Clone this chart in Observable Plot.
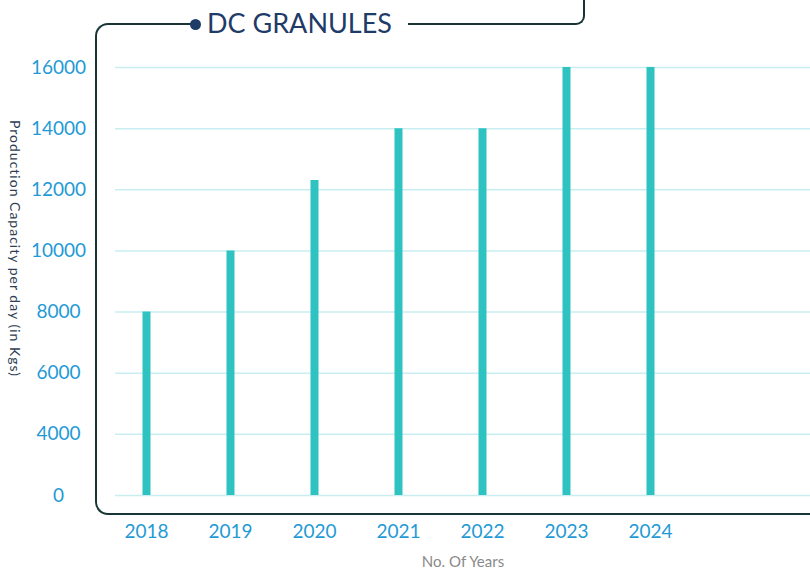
<!DOCTYPE html>
<html>
<head>
<meta charset="utf-8">
<script src="https://cdn.jsdelivr.net/npm/d3@7"></script>
<script src="https://cdn.jsdelivr.net/npm/@observablehq/plot@0.6"></script>
<style>
  html, body { margin: 0; padding: 0; background: #fff; }
  #wrap { position: relative; width: 810px; height: 571px; overflow: hidden; }
  #wrap svg { position: absolute; left: 0; top: 0; }
  .frame { position: absolute; border-color: #173535; border-style: solid; border-width: 0; box-sizing: border-box; }
  #title { position: absolute; left: 207px; top: 6px; font-family: Lato, sans-serif; font-size: 27px; color: #1f3b68; letter-spacing: 0px; white-space: nowrap; }
  #dot { position: absolute; left: 190px; top: 19px; width: 11px; height: 11px; border-radius: 50%; background: #1f3b68; }
  #ylabel { position: absolute; left: 7px; top: 120px; writing-mode: vertical-rl; font-family: Lato, sans-serif; font-size: 14px; letter-spacing: 1px; color: #2d3e55; white-space: nowrap; }
</style>
</head>
<body>
<div id="wrap">
  <div id="chart"></div>
  <div class="frame" style="left:95px; top:23px; width:100px; height:250px; border-top-width:2px; border-left-width:2px; border-top-left-radius:13px;"></div>
  <div class="frame" style="left:95px; top:200px; width:800px; height:315px; border-left-width:2px; border-bottom-width:2px; border-bottom-left-radius:13px;"></div>
  <div class="frame" style="left:408px; top:-20px; width:177px; height:45px; border-right-width:2px; border-bottom-width:2px; border-bottom-right-radius:9px;"></div>
  <div id="dot"></div>
  <div id="title">DC GRANULES</div>
  <div id="ylabel">Production Capacity per day (in Kgs)</div>
</div>
<script>
const years = ["2018", "2019", "2020", "2021", "2022", "2023", "2024"];
const capacity = [8000, 10000, 12300, 14000, 14000, 16000, 16000];
const yTickValues = [2000, 4000, 6000, 8000, 10000, 12000, 14000, 16000];
const yTickLabels = ["0", "4000", "6000", "8000", "10000", "12000", "14000", "16000"];
const baseline = 2000;
const xTitle = "No. Of Years";

const data = years.map((y, i) => ({year: y, value: capacity[i]}));

const chart = Plot.plot({
  width: 810,
  height: 571,
  marginLeft: 115,
  marginRight: 0,
  marginTop: 67,
  marginBottom: 76,
  style: {fontFamily: "Lato, sans-serif", fontSize: "19px", background: "transparent"},
  x: {type: "band", domain: years, range: [102, 693], padding: 0},
  y: {domain: [2000, 16000]},
  marks: [
    Plot.ruleY(yTickValues, {stroke: "#c9eef1", strokeWidth: 1.5}),
    Plot.ruleX(data, {x: "year", y1: baseline, y2: "value", stroke: "#2ec3c0", strokeWidth: 8}),
    Plot.axisY({ticks: yTickValues, tickFormat: (d) => yTickLabels[yTickValues.indexOf(d)], tickSize: 0, tickPadding: 57, textAnchor: "middle", color: "#1f9ad6", label: null}),
    Plot.axisX({tickSize: 0, tickPadding: 29, color: "#1f9ad6", label: null}),
    Plot.text([xTitle], {frameAnchor: "bottom", dy: 71, fill: "#8a8a8a", fontSize: 15})
  ]
});
document.getElementById("chart").appendChild(chart);
</script>
</body>
</html>
